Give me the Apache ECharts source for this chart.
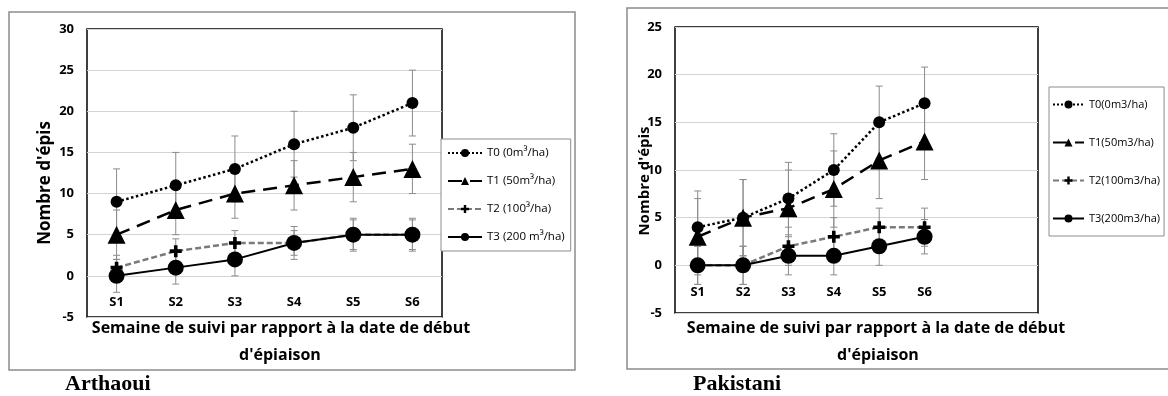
<!DOCTYPE html>
<html>
<head>
<meta charset="utf-8">
<script src="https://cdn.jsdelivr.net/npm/echarts@6/dist/echarts.min.js"></script>
<style>
html,body{margin:0;padding:0;background:#fff;}
#c{width:1168px;height:396px;}
</style>
</head>
<body>
<div id="c"></div>
<script>
// ---- Data ----
var categories = ['S1','S2','S3','S4','S5','S6'];

// Arthaoui
var namesA = ['T0 (0m³/ha)','T1 (50m³/ha)','T2 (100³/ha)','T3 (200 m³/ha)'];
var a_T0 = [9, 11, 13, 16, 18, 21];
var a_T1 = [5, 8, 10, 11, 12, 13];
var a_T2 = [1, 3, 4, 4, 5, 5];
var a_T3 = [0, 1, 2, 4, 5, 5];
var a_T0_err = [4, 4, 4, 4, 4, 4];
var a_T1_err = [3, 3, 3, 3, 3, 3];
var a_T2_err = [1.5, 1.5, 1.5, 1.5, 1.8, 1.8];
var a_T3_err = [2, 2, 2, 2, 2, 2];

// Pakistani
var namesP = ['T0(0m3/ha)','T1(50m3/ha)','T2(100m3/ha)','T3(200m3/ha)'];
var p_T0 = [4, 5, 7, 10, 15, 17];
var p_T1 = [3, 5, 6, 8, 11, 13];
var p_T2 = [0, 0, 2, 3, 4, 4];
var p_T3 = [0, 0, 1, 1, 2, 3];
var p_T0_err = [3.8, 4, 3.8, 3.8, 3.8, 3.8];
var p_T1_err = [4, 4, 4, 4, 4, 4];
var p_T2_err = [2, 2, 2, 2, 2, 2];
var p_T3_err = [2, 2, 2, 2, 2, 1.8];

var yTicksA = {min: -5, max: 30, interval: 5};
var yTicksP = {min: -5, max: 25, interval: 5};

// ---- Styles ----
var FONT = '"Open Sans", "Liberation Sans", sans-serif';
var plusPath = 'path://M3.5,0H6.5V3.5H10V6.5H6.5V10H3.5V6.5H0V3.5H3.5Z';
var styles = [
  {color:'#000', type:'dotted', width:2.5, symbol:'circle', size:12},
  {color:'#000', type:[14,8], width:2.5, symbol:'triangle', size:18},
  {color:'#7a7a7a', type:[6,3], width:2.5, symbol:plusPath, size:12, symColor:'#000'},
  {color:'#000', type:'solid', width:2, symbol:'circle', size:16}
];

function errData(vals, errs){
  return vals.map(function(v,i){ return [i, v - errs[i], v + errs[i]]; });
}
function errSeries(vals, errs, gi){
  return {
    type:'custom', xAxisIndex:gi, yAxisIndex:gi, silent:true, z:1,
    data: errData(vals, errs),
    renderItem: function(params, api){
      var lo = api.coord([api.value(0), api.value(1)]);
      var hi = api.coord([api.value(0), api.value(2)]);
      var w = 3.5;
      var st = {stroke:'#8c8c8c', lineWidth:1};
      return {type:'group', children:[
        {type:'line', shape:{x1:lo[0],y1:lo[1],x2:hi[0],y2:hi[1]}, style:st},
        {type:'line', shape:{x1:lo[0]-w,y1:lo[1],x2:lo[0]+w,y2:lo[1]}, style:st},
        {type:'line', shape:{x1:hi[0]-w,y1:hi[1],x2:hi[0]+w,y2:hi[1]}, style:st}
      ]};
    }
  };
}
function lineSeries(name, vals, k, gi){
  var s = styles[k];
  return {
    name:name, type:'line', xAxisIndex:gi, yAxisIndex:gi, data:vals,
    symbol:s.symbol, symbolSize:s.size, showSymbol:true, z:3+k,
    lineStyle:{color:s.color, type:s.type, width:s.width},
    itemStyle:{color:s.symColor || '#000', borderWidth:0},
    emphasis:{disabled:true}, animation:false
  };
}

var seriesA = [a_T0, a_T1, a_T2, a_T3];
var errA = [a_T0_err, a_T1_err, a_T2_err, a_T3_err];
var seriesP = [p_T0, p_T1, p_T2, p_T3];
var errP = [p_T0_err, p_T1_err, p_T2_err, p_T3_err];

var series = [];
for (var k=0;k<4;k++){
  series.push(errSeries(seriesA[k], errA[k], 0));
  series.push(errSeries(seriesP[k], errP[k], 1));
}
for (var k2=0;k2<4;k2++){
  series.push(lineSeries(namesA[k2], seriesA[k2], k2, 0));
  series.push(lineSeries(namesP[k2], seriesP[k2], k2, 1));
}

function yAxis(gi, t){
  return {
    type:'value', gridIndex:gi, min:t.min, max:t.max, interval:t.interval,
    axisLine:{show:false}, axisTick:{show:false},
    axisLabel:{color:'#000', fontFamily:FONT, fontWeight:'bold', fontSize:13, margin:13},
    splitLine:{show:true, lineStyle:{color:'#d4d4d4', width:1}}
  };
}
function xAxis(gi, data, margin){
  return {
    type:'category', gridIndex:gi, data:data, boundaryGap:true,
    axisLine:{show:false}, axisTick:{show:false}, splitLine:{show:false},
    axisLabel:{color:'#000', fontFamily:FONT, fontWeight:'bold', fontSize:13, margin:margin, verticalAlign:'middle'}
  };
}

function legend(names, left, top, gap, pad, iw, fs){
  return {
    data:names, orient:'vertical', left:left, top:top, itemGap:gap,
    itemWidth:iw, itemHeight:10, padding:pad,
    borderColor:'#8c8c8c', borderWidth:1, backgroundColor:'#fff',
    textStyle:{color:'#000', fontFamily:FONT, fontSize:fs},
    selectedMode:false
  };
}

function txt(x, y, text, size, rot, family, weight){
  return {
    type:'text', x:x, y:y, rotation:rot||0, z:100,
    style:{text:text, fill:'#000', font:(weight||'bold')+' '+size+'px '+(family||FONT), textAlign:'center', textVerticalAlign:'middle'}
  };
}

var option = {
  animation:false,
  grid:[
    {left:87, top:29, width:355, height:288, show:true, borderColor:'#000', borderWidth:1.5, backgroundColor:'transparent'},
    {left:675, top:27, width:363, height:286, show:true, borderColor:'#000', borderWidth:1.5, backgroundColor:'transparent'}
  ],
  xAxis:[ xAxis(0, categories, -15), xAxis(1, categories.concat(['','']), -21) ],
  yAxis:[ yAxis(0, yTicksA), yAxis(1, yTicksP) ],
  legend:[
    legend(namesA, 441, 139, 16, [8,6], 34, 11.5),
    legend(namesP, 1049, 87, 27, [12,4,12,3], 31, 11)
  ],
  graphic:[
    {type:'rect', shape:{x:9, y:12, width:566, height:358}, style:{fill:'none', stroke:'#8c8c8c', lineWidth:1.5}, z:-1},
    {type:'rect', shape:{x:627, y:8, width:560, height:361}, style:{fill:'none', stroke:'#8c8c8c', lineWidth:1.5}, z:-1},
    txt(45, 183, "Nombre d'épis", 17, Math.PI/2),
    txt(645, 181, "Nombre d'épis", 15, Math.PI/2),
    txt(281, 328, 'Semaine de suivi par rapport à la date de début', 16),
    txt(280, 355, "d'épiaison", 16),
    txt(876, 328, 'Semaine de suivi par rapport à la date de début', 16),
    txt(878, 355, "d'épiaison", 16),
    {type:'text', x:65, y:384, z:100, style:{text:'Arthaoui', fill:'#000', font:'bold 22px "Liberation Serif", serif', textAlign:'left', textVerticalAlign:'middle'}},
    {type:'text', x:693, y:384, z:100, style:{text:'Pakistani', fill:'#000', font:'bold 22px "Liberation Serif", serif', textAlign:'left', textVerticalAlign:'middle'}}
  ],
  series:series
};

var chart = echarts.init(document.getElementById('c'), null, {renderer:'canvas'});
chart.setOption(option);
</script>
</body>
</html>
